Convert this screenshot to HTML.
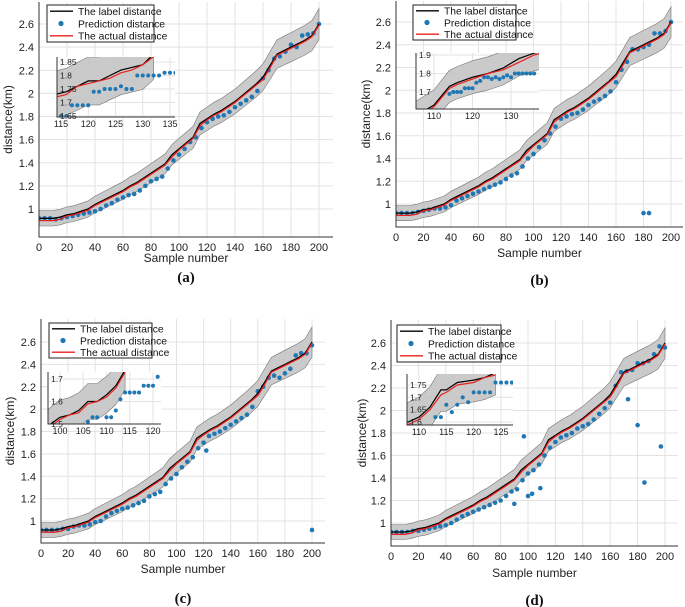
<!DOCTYPE html>
<html><head><meta charset="utf-8"><style>
body{margin:0;background:#fff;}
svg{display:block;font-family:"Liberation Sans",sans-serif;}
</style></head><body>
<svg id="fig" width="685" height="607" viewBox="0 0 685 607" xmlns="http://www.w3.org/2000/svg"></svg>
<script>
// shared data
const labelX=[0,5,10,15,20,25,30,35,40,45,50,55,60,65,70,75,80,85,90,95,100,105,110,115,120,125,130,135,140,145,150,155,160,165,170,175,180,185,190,195,200];
const labelY=[.92,.92,.92,.93,.95,.96,.98,1.00,1.04,1.07,1.10,1.13,1.16,1.20,1.23,1.27,1.31,1.35,1.39,1.47,1.52,1.57,1.62,1.74,1.78,1.82,1.85,1.89,1.93,1.98,2.03,2.08,2.14,2.24,2.34,2.37,2.40,2.43,2.46,2.50,2.60];
const actualY=[.90,.90,.90,.91,.94,.95,.97,.99,1.03,1.06,1.09,1.12,1.15,1.19,1.22,1.26,1.30,1.34,1.38,1.45,1.51,1.56,1.61,1.72,1.77,1.81,1.84,1.88,1.92,1.97,2.02,2.07,2.12,2.22,2.33,2.36,2.39,2.42,2.45,2.49,2.59];
const predX=[0,4,8,12,16,20,24,28,32,36,40,44,48,52,56,60,64,68,72,76,80,84,88,92,96,100,104,108,112,116,120,124,128,132,136,140,144,148,152,156,160,164,168,172,176,180,184,188,192,196,200];
const predA=[.92,.92,.92,.91,.92,.93,.94,.95,.96,.97,.98,1.00,1.03,1.05,1.08,1.10,1.12,1.13,1.16,1.20,1.24,1.26,1.28,1.35,1.42,1.47,1.52,1.58,1.62,1.70,1.75,1.78,1.80,1.81,1.84,1.88,1.91,1.94,1.97,2.02,2.13,2.20,2.30,2.32,2.36,2.42,2.40,2.50,2.51,2.52,2.60];
const predB=[.92,.92,.92,.92,.93,.94,.95,.96,.96,.97,.99,1.03,1.05,1.07,1.09,1.11,1.13,1.15,1.17,1.19,1.22,1.25,1.27,1.33,1.40,1.44,1.50,1.56,1.62,1.68,1.75,1.77,1.79,1.80,1.83,1.87,1.90,1.92,1.95,1.99,2.07,2.18,2.25,2.36,2.36,2.38,2.40,2.50,2.50,2.52,2.60];
const predC=[.92,.92,.92,.92,.93,.93,.95,.96,.96,.97,.99,1.00,1.04,1.07,1.09,1.11,1.12,1.14,1.16,1.18,1.22,1.24,1.26,1.33,1.38,1.42,1.48,1.53,1.57,1.65,1.70,1.76,1.78,1.80,1.83,1.86,1.89,1.92,1.95,2.02,2.16,2.20,2.28,2.30,2.28,2.32,2.36,2.48,2.50,2.50,2.57];
const predD=[.92,.92,.92,.92,.93,.93,.94,.95,.96,.97,.98,1.00,1.03,1.06,1.08,1.10,1.12,1.14,1.16,1.18,1.20,1.24,1.28,1.30,1.38,1.44,1.47,1.52,1.60,1.67,1.72,1.76,1.78,1.80,1.84,1.86,1.88,1.92,1.97,2.02,2.07,2.22,2.34,2.35,2.36,2.42,2.42,2.44,2.50,2.57,2.56];
const outAX=[],outAY=[];
const outBX=[180,184],outBY=[0.92,0.92];
const outCX=[200,122],outCY=[0.92,1.63];
const outDX=[90,97,100,103,109,173,180,185,197],outDY=[1.17,1.77,1.24,1.26,1.31,2.10,1.87,1.36,1.68];
const xTicks=[0,20,40,60,80,100,120,140,160,180,200];
const yTicks=[1,1.2,1.4,1.6,1.8,2,2.2,2.4,2.6];
// inset data
const inALX=[113,114,116,118,120,122,124,126,128,130,132],inALY=[1.70,1.73,1.74,1.76,1.78,1.78,1.80,1.82,1.83,1.84,1.88],inAAY=[1.68,1.72,1.73,1.76,1.77,1.78,1.79,1.81,1.82,1.84,1.87];
const inAPX=[115,116,117,118,119,120,121,122,123,124,125,126,127,128,129,130,131,132,133,134,135,136],inAPY=[1.65,1.65,1.69,1.69,1.69,1.69,1.74,1.74,1.75,1.75,1.75,1.76,1.75,1.75,1.80,1.80,1.80,1.80,1.80,1.81,1.81,1.81];
const inBLX=[104,106,110,114,116,120,124,128,132,136,138],inBLY=[1.56,1.58,1.63,1.73,1.75,1.78,1.80,1.83,1.88,1.91,1.92],inBAY=[1.55,1.57,1.62,1.72,1.74,1.77,1.80,1.82,1.86,1.90,1.91];
const inBPX=[114,115,116,117,118,119,120,121,122,123,124,125,126,127,128,129,130,131,132,133,134,135,136],inBPY=[1.69,1.70,1.70,1.70,1.72,1.72,1.72,1.75,1.76,1.78,1.78,1.77,1.78,1.77,1.78,1.79,1.78,1.80,1.80,1.80,1.80,1.80,1.80];
const inCLX=[97,98,100,102,104,106,108,110,112,114],inCLY=[1.48,1.50,1.53,1.54,1.56,1.60,1.60,1.63,1.67,1.74],inCAY=[1.47,1.49,1.52,1.54,1.55,1.59,1.60,1.62,1.66,1.73];
const inCPX=[106,107,108,110,111,112,113,114,115,116,117,118,119,120,121],inCPY=[1.51,1.53,1.53,1.53,1.53,1.56,1.61,1.64,1.64,1.64,1.64,1.67,1.67,1.67,1.71];
const inDLX=[106,108,110,112,114,115,117,120,122,124],inDLY=[1.60,1.60,1.62,1.66,1.73,1.73,1.76,1.77,1.78,1.80],inDAY=[1.59,1.59,1.61,1.65,1.71,1.72,1.75,1.76,1.78,1.79];
const inDPX=[113,114,115,116,117,118,119,120,121,122,123,124,125,126,127],inDPY=[1.62,1.62,1.67,1.64,1.67,1.70,1.68,1.72,1.72,1.72,1.72,1.76,1.76,1.76,1.76];

const NS='http://www.w3.org/2000/svg';
const svg=document.getElementById('fig');
function mk(tag,attrs,parent,text){const e=document.createElementNS(NS,tag);for(const k in attrs)e.setAttribute(k,attrs[k]);if(text!==undefined)e.textContent=text;(parent||svg).appendChild(e);return e;}
const hi=v=>v+0.04*v+0.03, lo=v=>v-0.04*v-0.03;

const panels=[
 {id:'a',L:39,T:2,R:333,B:237,x0:39,x200:319,y1:209,y26:24,leg:[47,5,154,42],xl:262,cap:282,yl:8,pred:predA,ox:outAX,oy:outAY,
  ins:{box:[57,57,175,117],xa:115,xap:61,xb:135,xbp:170,ya:1.65,yap:116,yb:1.85,ybp:62,xt:[115,120,125,130,135],yt:[1.65,1.7,1.75,1.8,1.85],lx:inALX,ly:inALY,ay:inAAY,px:inAPX,py:inAPY}},
 {id:'b',L:396,T:1,R:683,B:227,x0:396,x200:671,y1:204,y26:22,leg:[413,5,516,40],xl:257,cap:285,yl:366,pred:predB,ox:outBX,oy:outBY,
  ins:{box:[416,53,539,109],xa:110,xap:434,xb:130,xbp:511,ya:1.7,yap:92,yb:1.9,ybp:55,xt:[110,120,130],yt:[1.7,1.8,1.9],lx:inBLX,ly:inBLY,ay:inBAY,px:inBPX,py:inBPY}},
 {id:'c',L:41,T:319,R:325,B:543,x0:41,x200:312,y1:521,y26:342,leg:[49,323,152,358],xl:573,cap:603,yl:10,pred:predC,ox:outCX,oy:outCY,
  ins:{box:[48,372,161,424],xa:100,xap:60,xb:120,xbp:153,ya:1.5,yap:424,yb:1.7,ybp:379,xt:[100,105,110,115,120],yt:[1.5,1.6,1.7],lx:inCLX,ly:inCLY,ay:inCAY,px:inCPX,py:inCPY}},
 {id:'d',L:391,T:320,R:678,B:546,x0:391,x200:665,y1:523,y26:343,leg:[397,325,501,362],xl:577,cap:605,yl:362,pred:predD,ox:outDX,oy:outDY,
  ins:{box:[407,374,513,425],xa:110,xap:419,xb:125,xbp:501,ya:1.6,yap:422,yb:1.75,ybp:385,xt:[110,115,120,125],yt:[1.6,1.65,1.7,1.75],lx:inDLX,ly:inDLY,ay:inDAY,px:inDPX,py:inDPY}}
];
const BLUE='#1f77b4', RED='#e8211d';
function pts(xs,ys,sx,sy){return xs.map((x,i)=>sx(x).toFixed(1)+','+sy(ys[i]).toFixed(1)).join(' ');}

panels.forEach(p=>{
 const g=mk('g',{});  
 const sx=v=>p.x0+v*(p.x200-p.x0)/200;
 const sy=v=>p.y1+(v-1)*(p.y26-p.y1)/1.6;
 const cid='clip'+p.id;
 const cp=mk('clipPath',{id:cid},g); mk('rect',{x:p.L,y:p.T,width:p.R-p.L,height:p.B-p.T},cp);
 xTicks.forEach(t=>{const l=mk('line',{x1:sx(t),x2:sx(t),y1:p.T,y2:p.B,stroke:'#e3e3e3','stroke-width':1},g);});
 yTicks.forEach(t=>{const l=mk('line',{x1:p.L,x2:p.R,y1:sy(t),y2:sy(t),stroke:'#e3e3e3','stroke-width':1},g);});
 const dg=mk('g',{'clip-path':'url(#'+cid+')'},g);
 const up=labelX.map((x,i)=>sx(x).toFixed(1)+','+sy(hi(labelY[i])).toFixed(1));
 const lw=labelX.map((x,i)=>sx(x).toFixed(1)+','+sy(lo(labelY[i])).toFixed(1)).reverse();
 const band=mk('polygon',{points:up.concat(lw).join(' '),fill:'#c4c4c4','fill-opacity':0.9,stroke:'#777','stroke-width':0.6},dg);
 
 predX.forEach((x,i)=>{const c=mk('circle',{cx:sx(x),cy:sy(p.pred[i]),r:2.3,fill:BLUE},dg);});
 p.ox.forEach((x,i)=>{const c=mk('circle',{cx:sx(x),cy:sy(p.oy[i]),r:2.3,fill:BLUE},dg);});
 const ll=mk('polyline',{points:pts(labelX,labelY,sx,sy),fill:'none',stroke:'#000','stroke-width':1.3},dg);
 
 const al=mk('polyline',{points:pts(labelX,actualY,sx,sy),fill:'none',stroke:RED,'stroke-width':1.3},dg);
 
 const ax=mk('path',{d:`M${p.L},${p.T}V${p.B}H${p.R}`,fill:'none',stroke:'#333','stroke-width':1},g);
 
 xTicks.forEach(t=>{const tx=mk('text',{x:sx(t),y:p.B+14,'font-size':11,'text-anchor':'middle',fill:'#222'},g,String(t));});
 yTicks.forEach(t=>{const tx=mk('text',{x:p.L-5,y:sy(t)+4,'font-size':11,'text-anchor':'end',fill:'#222'},g,String(t));});
 const xt=mk('text',{x:(p.L+p.R)/2,y:p.xl,'font-size':12,'text-anchor':'middle',fill:'#222'},g,'Sample number');
 
 const yc=(p.T+p.B)/2;
 const yt=mk('text',{x:p.yl,y:yc,'font-size':12,'text-anchor':'middle',fill:'#222',transform:`rotate(-90 ${p.yl} ${yc})`,'dominant-baseline':'central'},g,'distance(km)');
 
 const cap=mk('text',{x:(p.L+p.R)/2,y:p.cap,'font-size':15,'font-weight':'bold','text-anchor':'middle','font-family':'Liberation Serif, serif',fill:'#111'},g,'('+p.id+')');
 
 const [lx0,ly0,lx1,ly1]=p.leg; const lg=mk('g',{},g);
 
 mk('rect',{x:lx0,y:ly0,width:lx1-lx0,height:ly1-ly0,fill:'#fff',stroke:'#222','stroke-width':1},lg);
 const rh=(ly1-ly0)/3;
 const names=['The label distance','Prediction distance','The actual distance'];
 names.forEach((n,i)=>{const yy=ly0+rh*(i+0.5);
  const e=mk('g',{},lg);  
  if(i==1) mk('circle',{cx:lx0+14,cy:yy,r:2.6,fill:BLUE},e);
  else mk('line',{x1:lx0+3,x2:lx0+26,y1:yy,y2:yy,stroke:i==0?'#000':RED,'stroke-width':1.3},e);
  mk('text',{x:lx0+31,y:yy+3.8,'font-size':10.3,fill:'#111'},e,n);});
 const q=p.ins; const [bx0,by0,bx1,by1]=q.box;
 const ix=v=>q.xap+(v-q.xa)*(q.xbp-q.xap)/(q.xb-q.xa);
 const iy=v=>q.yap+(v-q.ya)*(q.ybp-q.yap)/(q.yb-q.ya);
 const ig=mk('g',{},g);  
 mk('rect',{x:bx0,y:by0,width:bx1-bx0,height:by1-by0,fill:'#fff'},ig);
 const icid='iclip'+p.id; const icp=mk('clipPath',{id:icid},ig); mk('rect',{x:bx0,y:by0,width:bx1-bx0,height:by1-by0},icp);
 q.xt.forEach(t=>mk('line',{x1:ix(t),x2:ix(t),y1:by0,y2:by1,stroke:'#e3e3e3'},ig));
 q.yt.forEach(t=>mk('line',{x1:bx0,x2:bx1,y1:iy(t),y2:iy(t),stroke:'#e3e3e3'},ig));
 const idg=mk('g',{'clip-path':'url(#'+icid+')'},ig);
 const iu=q.lx.map((x,i)=>ix(x).toFixed(1)+','+iy(q.ly[i]*1.05).toFixed(1));
 const il=q.lx.map((x,i)=>ix(x).toFixed(1)+','+iy(q.ly[i]*0.95).toFixed(1)).reverse();
 const ib=mk('polygon',{points:iu.concat(il).join(' '),fill:'#c4c4c4','fill-opacity':0.9,stroke:'#777','stroke-width':0.6},idg);
 
 q.px.forEach((x,i)=>{const c=mk('circle',{cx:ix(x),cy:iy(q.py[i]),r:2,fill:BLUE},idg);});
 const il1=mk('polyline',{points:pts(q.lx,q.ly,ix,iy),fill:'none',stroke:'#000','stroke-width':1.2},idg);
 
 const il2=mk('polyline',{points:pts(q.lx,q.ay,ix,iy),fill:'none',stroke:RED,'stroke-width':1.2},idg);
 
 mk('path',{d:`M${bx0},${by0}V${by1}H${bx1}`,fill:'none',stroke:'#333'},ig);
 q.xt.forEach(t=>{const tx=mk('text',{x:ix(t),y:by1+10,'font-size':9,'text-anchor':'middle',fill:'#222'},ig,String(t));});
 q.yt.forEach(t=>{const tx=mk('text',{x:bx0+3,y:iy(t)+3,'font-size':8.5,'text-anchor':'start',fill:'#222'},ig,String(t));});
});
</script>
</body></html>
